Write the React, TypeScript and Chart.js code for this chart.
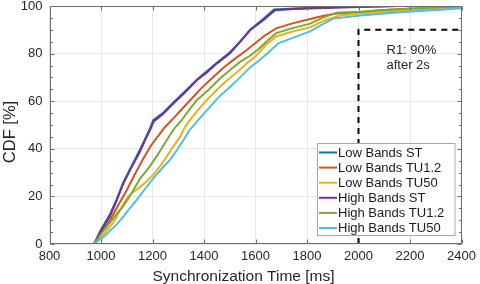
import React, { useEffect, useRef } from "react";
import { Chart, registerables } from "chart.js";

Chart.register(...registerables);

// ---- axes ----
const X_MIN = 800;
const X_MAX = 2400;
const X_STEP = 200;
const Y_MIN = 0;
const Y_MAX = 100;
const Y_STEP = 20;
const Y_MINOR_STEP = 5;
const X_TITLE = "Synchronization Time [ms]";
const Y_TITLE = "CDF [%]";

// ---- requirement annotation ----
const R1_TIME = 2000;
const R1_CDF = 90;
const R1_TEXT = ["R1: 90%", "after 2s"];

// ---- series ----
const SERIES_LABELS = [
  "Low Bands ST",
  "Low Bands TU1.2",
  "Low Bands TU50",
  "High Bands ST",
  "High Bands TU1.2",
  "High Bands TU50",
];
const SERIES_COLORS = ["#0072BD", "#D95319", "#EDB120", "#7E2F8E", "#77AC30", "#4DBEEE"];

// [time ms, CDF %]
const LOW_ST: [number, number][] = [
  [973, 0], [1000, 6], [1035, 12.5], [1060, 18.5], [1087, 26], [1120, 33], [1151, 39.5],
  [1175, 45], [1190, 48.5], [1203, 52], [1240, 55], [1281, 59.5], [1325, 64], [1372, 69],
  [1410, 72.5], [1449, 76], [1500, 80.5], [1540, 85], [1579, 90], [1630, 94.5], [1672, 98.5],
  [1750, 99], [1850, 99.4], [2000, 99.7], [2150, 100],
];
const LOW_TU12: [number, number][] = [
  [973, 0], [1000, 4.5], [1035, 10], [1065, 16], [1100, 22.6], [1130, 29], [1164, 35.8],
  [1195, 41.5], [1229, 46.4], [1245, 48.7], [1281, 52.8], [1310, 56.2], [1346, 60.4],
  [1390, 65.5], [1436, 70.2], [1480, 74.5], [1527, 78.4], [1560, 81], [1595, 84],
  [1635, 87.5], [1680, 90.6], [1740, 92.6], [1812, 94.5], [1860, 95.8], [1915, 96.8],
  [2007, 97.4], [2084, 98.2], [2200, 98.8], [2300, 99.2], [2400, 100],
];
const LOW_TU50: [number, number][] = [
  [973, 0], [1010, 4], [1048, 9], [1087, 16.8], [1105, 19.8], [1125, 21.9], [1150, 23.8],
  [1177, 26.3], [1210, 30], [1242, 34.5], [1275, 40], [1307, 45], [1322, 48.3], [1339, 51.2],
  [1375, 56], [1410, 60.4], [1450, 64.8], [1488, 68.6], [1530, 72.4], [1566, 75.8],
  [1605, 79.4], [1640, 83.6], [1680, 87.2], [1740, 89.2], [1812, 91.1], [1870, 94], [1928, 96],
  [2007, 96.8], [2084, 97.4], [2200, 98.3], [2300, 98.9], [2400, 99.7],
];
const HIGH_ST: [number, number][] = [
  [973, 0], [1000, 5.5], [1035, 11.8], [1060, 18], [1087, 25.5], [1120, 32.5], [1151, 38.7],
  [1175, 44.5], [1190, 47.8], [1205, 51.5], [1240, 54.5], [1281, 59], [1325, 63.5],
  [1372, 68.8], [1410, 72], [1449, 75.8], [1500, 80], [1540, 84.9], [1579, 89.8], [1630, 94],
  [1676, 98.2], [1750, 98.7], [1812, 98.9], [1900, 99.3], [2000, 99.6], [2154, 100],
];
const HIGH_TU12: [number, number][] = [
  [973, 0], [1000, 4.2], [1035, 9], [1060, 12.5], [1087, 16], [1120, 21.5], [1151, 27.4],
  [1185, 32], [1216, 36.8], [1240, 41], [1268, 45.8], [1285, 48.6], [1313, 52], [1340, 56],
  [1372, 60.4], [1420, 65], [1462, 69.5], [1500, 73], [1540, 76.5], [1580, 79.2], [1611, 81.8],
  [1645, 85.3], [1680, 88.6], [1740, 90.6], [1812, 92.6], [1860, 95], [1915, 97.2],
  [2007, 97.6], [2084, 98.2], [2200, 99], [2300, 99.4], [2400, 99.8],
];
const HIGH_TU50: [number, number][] = [
  [973, 0], [1015, 3.5], [1055, 7.5], [1087, 11.5], [1110, 14.8], [1139, 18.5], [1170, 23],
  [1203, 27.6], [1235, 31.5], [1268, 35.4], [1295, 39.5], [1320, 43.6], [1342, 47.6],
  [1385, 53], [1423, 57.6], [1460, 62], [1501, 66], [1540, 70], [1579, 74.2], [1615, 77.2],
  [1650, 80.5], [1690, 84.4], [1750, 86.8], [1812, 89.3], [1860, 92.3], [1902, 94.7],
  [2007, 96], [2161, 97.4], [2300, 98.3], [2394, 98.9], [2400, 99.4],
];
const SERIES_DATA = [LOW_ST, LOW_TU12, LOW_TU50, HIGH_ST, HIGH_TU12, HIGH_TU50];

const FONT = '"Liberation Sans", Arial, Helvetica, sans-serif';
const TEXT_COLOR = "#262626";
const AXIS_COLOR = "#6e6e6e";

const decorPlugin = {
  id: "decor",
  afterDatasetsDraw(chart: any) {
    const { ctx, chartArea: a, scales } = chart;
    const xs = scales.x;
    const ys = scales.y;
    ctx.save();

    // R1 requirement dashed outline
    const px = xs.getPixelForValue(R1_TIME);
    const py = ys.getPixelForValue(R1_CDF);
    const p0 = ys.getPixelForValue(Y_MIN);
    ctx.strokeStyle = "#000";
    ctx.lineWidth = 2;
    ctx.setLineDash([6, 5]);
    ctx.beginPath();
    ctx.moveTo(px, p0);
    ctx.lineTo(px, py);
    ctx.lineTo(a.right, py);
    ctx.stroke();
    ctx.setLineDash([]);

    // R1 text
    ctx.fillStyle = TEXT_COLOR;
    ctx.font = `13px ${FONT}`;
    ctx.textAlign = "left";
    ctx.textBaseline = "middle";
    R1_TEXT.forEach((t, i) => ctx.fillText(t, px + 28, py + 21 + i * 15));

    // axes box
    const L = Math.round(a.left) + 0.5;
    const R = Math.round(a.right) - 0.5;
    const T = Math.round(a.top) + 0.5;
    const B = Math.round(a.bottom) - 0.5;
    ctx.strokeStyle = AXIS_COLOR;
    ctx.lineWidth = 1;
    ctx.strokeRect(L, T, R - L, B - T);

    // inward ticks
    ctx.beginPath();
    for (let v = X_MIN; v <= X_MAX; v += X_STEP) {
      const x = Math.round(xs.getPixelForValue(v)) + 0.5;
      ctx.moveTo(x, B); ctx.lineTo(x, B - 4);
      ctx.moveTo(x, T); ctx.lineTo(x, T + 4);
    }
    for (let v = Y_MIN; v <= Y_MAX; v += Y_MINOR_STEP) {
      const y = Math.round(ys.getPixelForValue(v)) + 0.5;
      const len = v % Y_STEP === 0 ? 4 : 2.5;
      ctx.moveTo(L, y); ctx.lineTo(L + len, y);
      ctx.moveTo(R, y); ctx.lineTo(R - len, y);
    }
    ctx.stroke();

    // legend
    const lw = 137.5;
    const lh = 92;
    const lx = Math.round(a.right - 145) + 0.5;
    const ly = Math.round(a.bottom - 101) + 0.5;
    ctx.fillStyle = "#fff";
    ctx.fillRect(lx, ly, lw, lh);
    ctx.strokeStyle = "#a8a8a8";
    ctx.strokeRect(lx, ly, lw, lh);
    ctx.font = `13px ${FONT}`;
    ctx.textBaseline = "middle";
    SERIES_LABELS.forEach((lab, i) => {
      const yy = ly + 9 + i * 15.1;
      ctx.strokeStyle = SERIES_COLORS[i];
      ctx.lineWidth = 2;
      ctx.beginPath();
      ctx.moveTo(lx + 1.5, yy);
      ctx.lineTo(lx + 19.5, yy);
      ctx.stroke();
      ctx.fillStyle = "#1a1a1a";
      ctx.fillText(lab, lx + 20.5, yy + 0.5);
    });
    ctx.restore();
  },
  afterDraw(chart: any) {
    const { ctx, chartArea: a } = chart;
    ctx.save();
    ctx.fillStyle = TEXT_COLOR;
    ctx.font = `15.5px ${FONT}`;
    ctx.textAlign = "center";
    ctx.textBaseline = "alphabetic";
    ctx.fillText(X_TITLE, (a.left + a.right) / 2 - 12, 281);
    ctx.translate(15, (a.top + a.bottom) / 2 + 7);
    ctx.rotate(-Math.PI / 2);
    ctx.font = `16.5px ${FONT}`;
    ctx.fillText(Y_TITLE, 0, 0);
    ctx.restore();
  },
};

export default function App() {
  const ref = useRef<HTMLCanvasElement | null>(null);
  useEffect(() => {
    document.body.style.margin = "0";
    if (!ref.current) return;
    const tickFont = { family: FONT, size: 13 };
    const plain = (v: any) => String(v);
    const chart = new Chart(ref.current, {
      type: "line",
      data: {
        datasets: SERIES_DATA.map((pts, i) => ({
          label: SERIES_LABELS[i],
          data: pts.map(([x, y]) => ({ x, y })),
          borderColor: SERIES_COLORS[i],
          backgroundColor: SERIES_COLORS[i],
          borderWidth: 2,
          pointRadius: 0,
          fill: false,
          tension: 0,
          order: SERIES_DATA.length - i,
        })),
      },
      options: {
        animation: false,
        responsive: false,
        devicePixelRatio: 1,
        layout: { padding: { left: 0, right: 18.5, top: 6, bottom: 0 } },
        plugins: { legend: { display: false }, tooltip: { enabled: false } },
        scales: {
          x: {
            type: "linear",
            min: X_MIN,
            max: X_MAX,
            ticks: { stepSize: X_STEP, font: tickFont, color: TEXT_COLOR, padding: 5, maxRotation: 0, autoSkip: false, callback: plain },
            grid: { color: "#e8e8e8", drawTicks: false },
            border: { display: false },
            afterFit: (s: any) => { s.height = 40; s.paddingLeft = 0; s.paddingRight = 0; },
          },
          y: {
            type: "linear",
            min: Y_MIN,
            max: Y_MAX,
            ticks: { stepSize: Y_STEP, font: tickFont, color: TEXT_COLOR, padding: 7, callback: plain },
            grid: { color: "#e8e8e8", drawTicks: false },
            border: { display: false },
            afterFit: (s: any) => { s.width = 49.5; s.paddingTop = 0; s.paddingBottom = 0; },
          },
        },
      } as any,
      plugins: [decorPlugin],
    });
    return () => chart.destroy();
  }, []);
  return (
    <div style={{ width: 480, height: 284, background: "#fff" }}>
      <canvas ref={ref} width={480} height={284} />
    </div>
  );
}
